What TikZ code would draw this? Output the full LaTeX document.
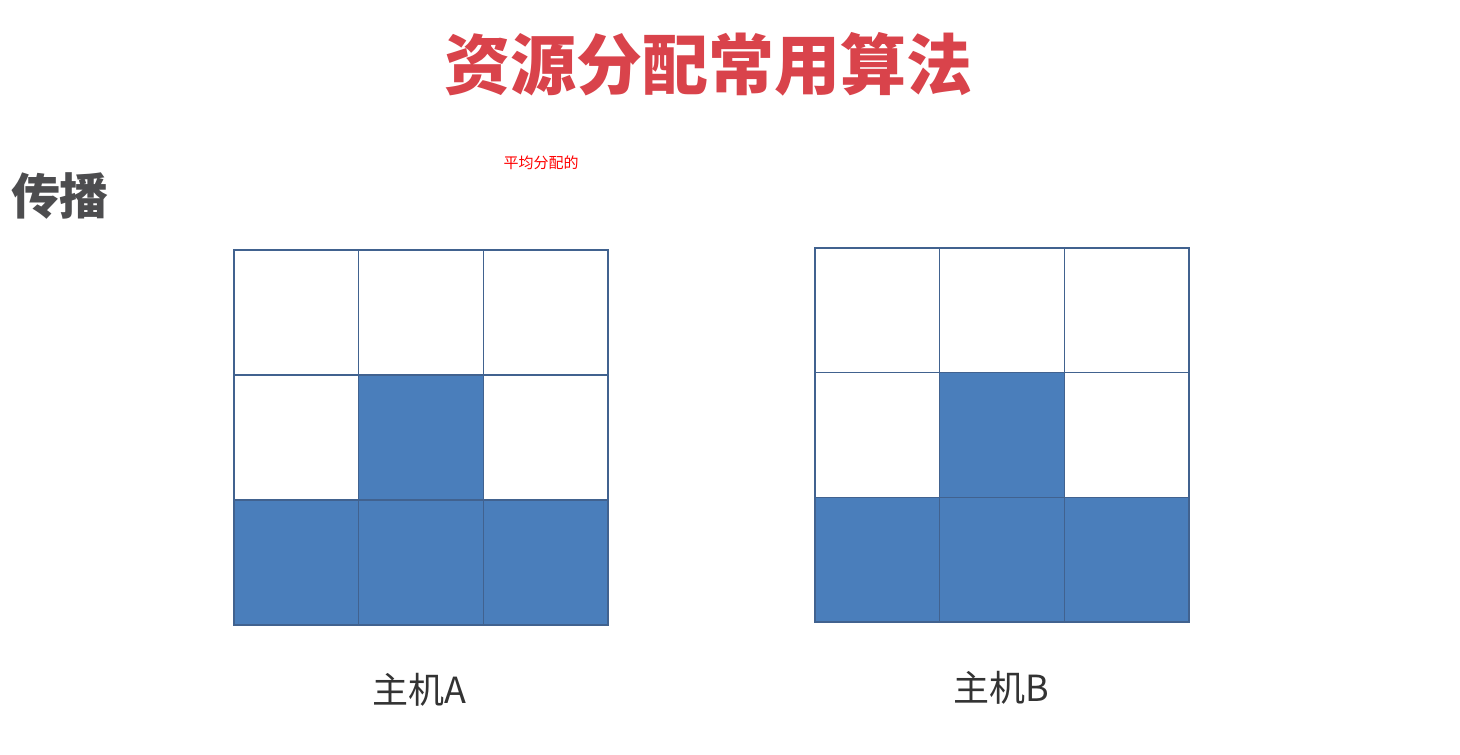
\documentclass[tikz,border=0pt]{standalone}
\usepackage{fontspec}
\newfontfamily\cjk{Noto Sans CJK SC}
\definecolor{titlered}{HTML}{D9434B}
\definecolor{headgray}{HTML}{4D4D4F}
\definecolor{cellblue}{HTML}{4A7EBB}
\definecolor{celledge}{HTML}{41628F}
\begin{document}
\begin{tikzpicture}[x=1pt,y=-1pt,
  cell/.style={minimum width=124.67pt,minimum height=125pt,inner sep=0,outer sep=0,fill=white},
  full/.style={cell,fill=cellblue},
  gridline/.style={draw=celledge,line width=1.6pt},
  label/.style={font=\cjk\fontsize{36}{36}\selectfont,text=black!80,inner sep=0}]
\useasboundingbox[fill=white] (0,0) rectangle (1460,755);
\node[font=\cjk\bfseries\fontsize{66}{66}\selectfont,text=titlered,inner sep=0] (title) at (708,64) {资源分配常用算法};
\node[font=\cjk\bfseries\fontsize{49}{49}\selectfont,text=headgray,inner sep=0] (head) at (60,196) {传播};
\node[font=\cjk\fontsize{15}{15}\selectfont,text=red,inner sep=0] (note) at (541,163) {平均分配的};
% grid A
\foreach \c in {1,2,3}{
  \node[cell] (a1\c) at ({234+124.67*(\c-0.5)},{250+125*0.5}) {};
}
\node[cell] (a21) at ({234+124.67*0.5},{250+125*1.5}) {};
\node[full] (a22) at ({234+124.67*1.5},{250+125*1.5}) {};
\node[cell] (a23) at ({234+124.67*2.5},{250+125*1.5}) {};
\foreach \c in {1,2,3}{
  \node[full] (a3\c) at ({234+124.67*(\c-0.5)},{250+125*2.5}) {};
}
\draw[gridline] (a11.north west) rectangle (a33.south east);
\draw[gridline] (a11.north east) -- (a31.south east);
\draw[gridline] (a12.north east) -- (a32.south east);
\draw[gridline] (a11.south west) -- (a13.south east);
\draw[gridline] (a21.south west) -- (a23.south east);
% grid B
\foreach \c in {1,2,3}{
  \node[cell,minimum height=124.67pt] (b1\c) at ({815+124.67*(\c-0.5)},{248+124.67*0.5}) {};
}
\node[cell,minimum height=124.67pt] (b21) at ({815+124.67*0.5},{248+124.67*1.5}) {};
\node[full,minimum height=124.67pt] (b22) at ({815+124.67*1.5},{248+124.67*1.5}) {};
\node[cell,minimum height=124.67pt] (b23) at ({815+124.67*2.5},{248+124.67*1.5}) {};
\foreach \c in {1,2,3}{
  \node[full,minimum height=124.67pt] (b3\c) at ({815+124.67*(\c-0.5)},{248+124.67*2.5}) {};
}
\draw[gridline] (b11.north west) rectangle (b33.south east);
\draw[gridline] (b11.north east) -- (b31.south east);
\draw[gridline] (b12.north east) -- (b32.south east);
\draw[gridline] (b11.south west) -- (b13.south east);
\draw[gridline] (b21.south west) -- (b23.south east);
\node[label] (la) at (419,690) {主机A};
\node[label] (lb) at (1001,688) {主机B};
\end{tikzpicture}
\end{document}
